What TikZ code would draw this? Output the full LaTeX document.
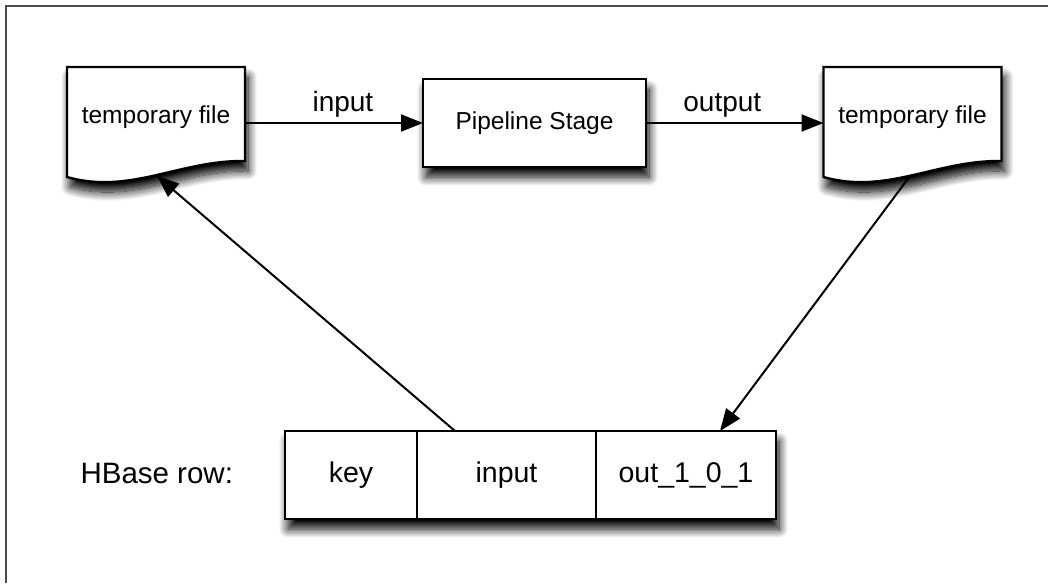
\documentclass[tikz,border=0pt]{standalone}
\usepackage{fontspec}
\setmainfont{Liberation Sans}
\usetikzlibrary{positioning,arrows.meta,shadows.blur,backgrounds}

% outline of a document (page with wavy bottom) around a text node
\newcommand\docoutline[1]{%
  \path[docshape] ([shift={(-89,-50)}]#1.center) -- ([shift={(89,-50)}]#1.center)
    -- ([shift={(89,44)}]#1.center)
    .. controls ([shift={(24,43)}]#1.center) and ([shift={(-26,78)}]#1.center)
    .. ([shift={(-89,60)}]#1.center) -- cycle;}

\begin{document}
\begin{tikzpicture}
[x=1pt,y=-1pt,
every node/.style={inner sep=0pt,outer sep=0pt},
softshadow/.style={blur shadow={shadow xshift=3pt,shadow yshift=-10pt,shadow blur radius=9pt,shadow blur steps=14,shadow opacity=100}},
docshape/.style={draw,line width=2.4pt,fill=white,softshadow},
doctext/.style={font=\fontsize{24.5}{28}\selectfont,minimum width=178pt,minimum height=100pt},
stagebox/.style={draw,line width=2.4pt,fill=white,softshadow,font=\fontsize{24.5}{28}\selectfont,minimum width=223pt,minimum height=88pt},
cell/.style={draw,line width=2.4pt,fill=white,minimum height=88pt,font=\fontsize{28.5}{32}\selectfont},
flow/.style={line width=2pt,-{Triangle[length=22pt,width=17pt]}},
lbl/.style={font=\fontsize{28}{32}\selectfont,inner sep=3pt}]

\useasboundingbox (0,0) rectangle (1048,583);
\draw[line width=2pt,black!70] (6,583) -- (6,6) -- (1048,6);

% files and stage
\node[doctext] (tmpin) at (156,117) {temporary file};
\node[stagebox] (stage) at (534.5,123) {Pipeline Stage};
\node[doctext] (tmpout) at (912.5,117) {temporary file};

% hbase row
\node[cell,minimum width=132pt] (key) at (351,475) {key};
\node[cell,minimum width=179pt,right=0pt of key] (incell) {input};
\node[cell,minimum width=180pt,right=0pt of incell] (outcell) {out\_1\_0\_1};
\node[font=\fontsize{29.5}{32}\selectfont,anchor=east] (rowlbl) at (233,473) {HBase row:};

\begin{scope}[on background layer]
\docoutline{tmpin}
\docoutline{tmpout}
\path[fill=white,softshadow] (key.north west) rectangle (outcell.south east);
\end{scope}

\coordinate (inlow) at ([shift={(1,59)}]tmpin.center);
\coordinate (outlow) at ([shift={(-2.5,59)}]tmpout.center);
\coordinate (readpt) at ([xshift=-51.5pt]incell.north);
\coordinate (writept) at ([xshift=34pt]outcell.north);

\draw[flow] (stage.west -| tmpin.east) -- node[lbl,pos=0.55,above=3pt] (inlbl) {input} (stage.west);
\draw[flow] (stage.east) -- node[lbl,pos=0.43,above=3pt] (outlbl) {output} (stage.east -| tmpout.west);
\draw[flow] (readpt) -- (inlow);
\draw[flow] (outlow) -- (writept);
\end{tikzpicture}
\end{document}
